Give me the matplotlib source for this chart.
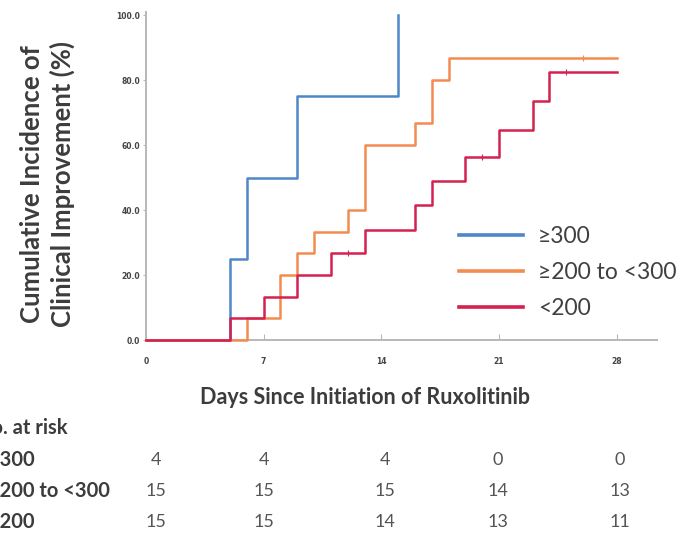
import matplotlib
matplotlib.use("Agg")
import matplotlib.pyplot as plt

# cumulative incidence (%) by platelet group, step changes at each day
blue_days = [0, 5, 6, 9, 15]
blue_pct = [0, 25, 50, 75, 100]

orange_days = [0, 6, 8, 9, 10, 12, 13, 16, 17, 18, 28]
orange_pct = [0, 6.7, 20, 26.7, 33.3, 40, 60, 66.7, 80, 86.7, 86.7]

red_days = [0, 5, 7, 9, 11, 13, 16, 17, 19, 21, 23, 24, 28]
red_pct = [0, 6.7, 13.3, 20, 26.7, 34, 41.5, 48.9, 56.3, 64.8, 73.6, 82.4, 82.4]

# censored observations
orange_cens_days = [26]
orange_cens_pct = [86.7]
red_cens_days = [12, 20, 25]
red_cens_pct = [26.7, 56.3, 82.4]

group_labels = ["\u2265300", "\u2265200 to <300", "<200"]
risk_days = [0, 7, 14, 21, 28]
at_risk = [[4, 4, 4, 0, 0],
           [15, 15, 15, 14, 13],
           [15, 15, 14, 13, 11]]

blue = "#4d87c7"
orange = "#f28c50"
red = "#d42150"
dark = "#3c3c3c"

W, H = 687, 539
fig = plt.figure(figsize=(W / 100, H / 100), dpi=100)
ax = fig.add_axes([146 / W, 1 - 340 / H, 511 / W, 328 / H])

kw = dict(where="post", lw=1.8, clip_on=False, zorder=3)
ax.step(blue_days, blue_pct, color=blue, label=group_labels[0], **kw)
ax.step(orange_days, orange_pct, color=orange, label=group_labels[1], **kw)
ax.step(red_days, red_pct, color=red, label=group_labels[2], **kw)
ax.plot(orange_cens_days, orange_cens_pct, ls="none", marker="|", ms=4, mew=0.8, color=orange)
ax.plot(red_cens_days, red_cens_pct, ls="none", marker="|", ms=4, mew=0.8, color=red)

ax.set_xlim(0, 30.4)
ax.set_ylim(0, 101)
ax.set_xticks(risk_days)
ax.set_yticks([0, 20, 40, 60, 80, 100])
ax.set_yticklabels(["0.0", "20.0", "40.0", "60.0", "80.0", "100.0"])
for s in ["top", "right"]:
    ax.spines[s].set_visible(False)
for s in ["left", "bottom"]:
    ax.spines[s].set_color("#b8b8b8")
    ax.spines[s].set_linewidth(1.4)
ax.tick_params(axis="x", direction="in", length=4, color="#b8b8b8", labelsize=5.5,
               labelcolor="#444444", pad=12)
ax.tick_params(axis="y", direction="out", length=2, color="#b8b8b8", labelsize=5.5,
               labelcolor="#444444", pad=2)
for t in ax.get_xticklabels() + ax.get_yticklabels():
    t.set_fontweight("bold")

leg = ax.legend(loc="center left", bbox_to_anchor=(0.572, 0.205), frameon=False,
                prop={"family": "Lato", "size": 16.5}, handlelength=2.8,
                handletextpad=0.65, labelspacing=0.66)
for h in leg.get_lines():
    h.set_linewidth(2.6)
for t in leg.get_texts():
    t.set_color("#404040")

fig.text(32 / W, 1 - 184 / H, "Cumulative Incidence of", rotation=90, ha="center",
         va="center", family="Lato", weight="bold", fontsize=18.5, color=dark)
fig.text(62 / W, 1 - 184 / H, "Clinical Improvement (%)", rotation=90, ha="center",
         va="center", family="Lato", weight="bold", fontsize=18.5, color=dark)
fig.text(365 / W, 1 - 398 / H, "Days Since Initiation of Ruxolitinib", ha="center",
         va="center", family="Lato", weight="bold", fontsize=15.5, color=dark)

# number at risk table
fig.text(-24 / W, 1 - 428 / H, "No. at risk", ha="left", va="center", family="Lato",
         weight="bold", fontsize=14.5, color=dark)
row_y = [460, 491, 522]
col_x = [156, 264, 385, 498, 620]
for label, counts, y in zip(group_labels, at_risk, row_y):
    fig.text(-12 / W, 1 - y / H, label, ha="left", va="center", family="Lato",
             weight="bold", fontsize=14.5, color=dark)
    for n, x in zip(counts, col_x):
        fig.text(x / W, 1 - y / H, str(n), ha="center", va="center", family="Lato",
                 fontsize=13, color="#555555")

fig.savefig("out.png", dpi=100)
